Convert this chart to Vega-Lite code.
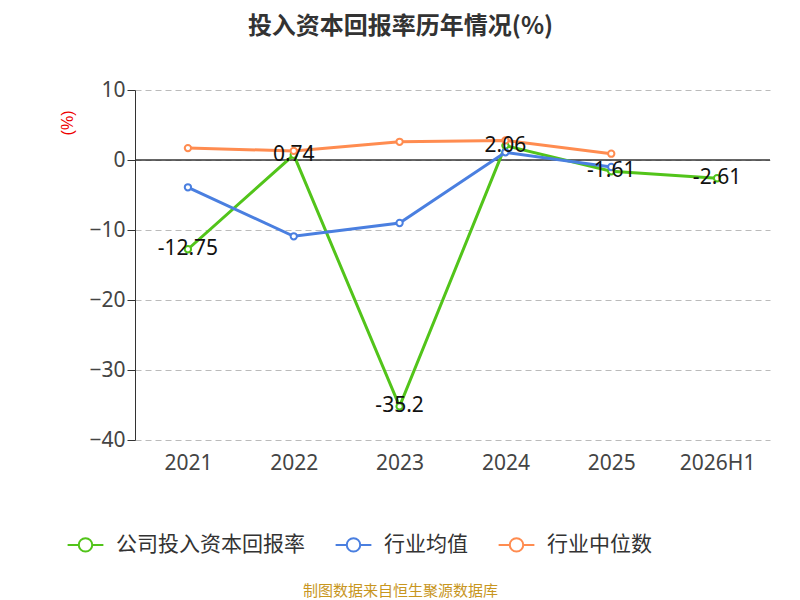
{
  "$schema": "https://vega.github.io/schema/vega-lite/v6.json",
  "width": 635,
  "height": 350,
  "autosize": {"type": "none"},
  "padding": {"left": 135, "top": 90, "right": 30, "bottom": 160},
  "background": "white",
  "config": {"view": {"stroke": null}},
  "title": {"text": "投入资本回报率历年情况(%)", "fontSize": 24, "font": "Noto Sans CJK SC", "fontWeight": "bold", "color": "#333", "offset": 40, "anchor": "middle", "dx": -52},
  "data": {"values": [
    {"year": "2021", "series": "公司投入资本回报率", "value": -12.75},
    {"year": "2022", "series": "公司投入资本回报率", "value": 0.74},
    {"year": "2023", "series": "公司投入资本回报率", "value": -35.2},
    {"year": "2024", "series": "公司投入资本回报率", "value": 2.06},
    {"year": "2025", "series": "公司投入资本回报率", "value": -1.61},
    {"year": "2026H1", "series": "公司投入资本回报率", "value": -2.61},
    {"year": "2021", "series": "行业均值", "value": -3.9},
    {"year": "2022", "series": "行业均值", "value": -10.9},
    {"year": "2023", "series": "行业均值", "value": -9.0},
    {"year": "2024", "series": "行业均值", "value": 1.1},
    {"year": "2025", "series": "行业均值", "value": -1.0},
    {"year": "2021", "series": "行业中位数", "value": 1.7},
    {"year": "2022", "series": "行业中位数", "value": 1.3},
    {"year": "2023", "series": "行业中位数", "value": 2.6},
    {"year": "2024", "series": "行业中位数", "value": 2.8},
    {"year": "2025", "series": "行业中位数", "value": 0.9}
  ]},
  "encoding": {
    "x": {"field": "year", "type": "nominal", "sort": null, "title": "制图数据来自恒生聚源数据库",
      "axis": {"labelAngle": 0, "labelFontSize": 21, "labelColor": "#444", "domain": false, "ticks": false, "labelPadding": 12, "labelFont": "Noto Sans", "titleColor": "#c8961e", "titleFontSize": 15, "titleFontWeight": "normal", "titleFont": "Noto Sans CJK SC", "titlePadding": 110, "titleX": 265}},
    "y": {"field": "value", "type": "quantitative", "scale": {"domain": [-40, 10]},
      "axis": {"values": [-40, -30, -20, -10, 0, 10], "labelFontSize": 21, "labelColor": "#444", "domainColor": "#333", "tickColor": "#333", "tickSize": 8, "gridDash": [6, 4], "gridColor": "#bbb", "title": "(%)", "titleColor": "#e00", "titleFontSize": 16, "titleFontWeight": "normal", "titleAngle": -90, "titleAnchor": "end", "titleX": -60, "titleY": 20, "labelFont": "Noto Sans"}}
  },
  "layer": [
    {"mark": {"type": "rule", "color": "#333", "strokeWidth": 1.5}, "data": {"values": [{"z": 0}]}, "encoding": {"y": {"field": "z", "type": "quantitative"}, "x": null}},
    {"mark": {"type": "line", "strokeWidth": 3},
      "encoding": {"color": {"field": "series", "type": "nominal", "sort": null,
        "scale": {"domain": ["公司投入资本回报率", "行业均值", "行业中位数"], "range": ["#52c41a", "#4a7fe0", "#ff8c50"]},
        "legend": {"orient": "none", "legendX": -62, "legendY": 442, "direction": "horizontal", "title": null, "labelFontSize": 21, "labelColor": "#333", "labelFont": "Noto Sans CJK SC", "labelLimit": 300, "symbolType": "M-1.6,0 L-0.6,0 M0.6,0 L1.6,0 M0.6,0 A0.6,0.6 0 1 1 -0.6,0 A0.6,0.6 0 1 1 0.6,0", "symbolSize": 500, "symbolStrokeWidth": 2, "symbolFillColor": "transparent", "columnPadding": 26, "labelOffset": 18}}}},
    {"mark": {"type": "point", "filled": true, "fill": "white", "size": 40, "strokeWidth": 2, "opacity": 1},
      "encoding": {"stroke": {"field": "series", "type": "nominal", "scale": {"domain": ["公司投入资本回报率", "行业均值", "行业中位数"], "range": ["#52c41a", "#4a7fe0", "#ff8c50"]}, "legend": null}}},
    {"transform": [{"filter": "datum.series === '公司投入资本回报率'"}],
      "mark": {"type": "text", "fontSize": 21, "color": "#111", "dy": 0, "font": "Noto Sans"},
      "encoding": {"text": {"field": "value"}}}
  ]
}
